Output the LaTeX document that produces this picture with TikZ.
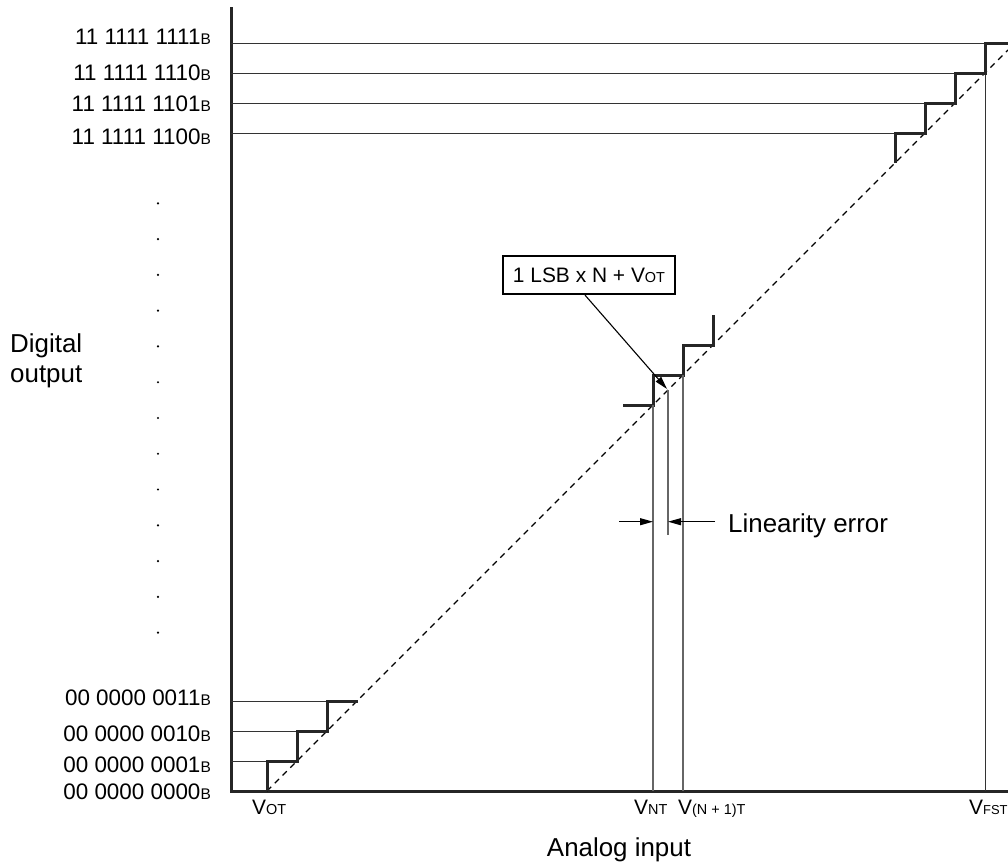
\documentclass[tikz,border=0pt]{standalone}
\usepackage{fontspec}
\setmainfont{Liberation Sans}
\usetikzlibrary{positioning,arrows.meta}

\newcommand{\smallcap}[1]{{\fontsize{14.5}{14.5}\selectfont #1}}
\newcommand{\codesub}[1]{{\fontsize{15.5}{15.5}\selectfont #1}}

\begin{document}
\begin{tikzpicture}[x=1bp,y=-1bp,
    every node/.style={inner sep=0},
    code/.style={anchor=base east, font=\fontsize{22.5}{24}\selectfont},
    volt/.style={anchor=base west, font=\fontsize{21}{24}\selectfont},
    bigtext/.style={font=\fontsize{26}{29.5}\selectfont},
    axisline/.style={line width=3bp, black!85},
    stair/.style={line width=3bp, black!85, line join=miter},
    guide/.style={line width=1bp, black!80},
    drop/.style={line width=1.4bp, black!60},
    ideal/.style={line width=1.2bp, dash pattern=on 6bp off 5bp},
    errarrow/.style={line width=1.1bp, -{Triangle[length=13bp,width=7bp]}}]
  \useasboundingbox (0,0) rectangle (1008,862);

  % axes
  \coordinate (O) at (231,791);
  \coordinate (ytop) at (231,7);
  \coordinate (xend) at (1008,791);
  \draw[axisline] (ytop) -- (O) -- (xend);

  % codes
  \node[code] (c3ff) at (211,44) {11 1111 1111\codesub{B}};
  \node[code] (c3fe) at (211,80) {11 1111 1110\codesub{B}};
  \node[code] (c3fd) at (211,111.7) {11 1111 1101\codesub{B}};
  \node[code] (c3fc) at (211,144) {11 1111 1100\codesub{B}};
  \node[code] (c003) at (211,705) {00 0000 0011\codesub{B}};
  \node[code] (c002) at (211,741.7) {00 0000 0010\codesub{B}};
  \node[code] (c001) at (211,772.7) {00 0000 0001\codesub{B}};
  \node[code] (c000) at (211,799) {00 0000 0000\codesub{B}};
  \foreach \k in {0,...,12}
    \fill (158,203.3+35.78*\k) circle (1.2bp);
  \node[bigtext, align=left, anchor=north west] (dout) at (10,334) {Digital\\output};

  % ideal line
  \coordinate (vot) at (267,791);
  \coordinate (fs) at (1008,50);
  \draw[ideal] (vot) -- (fs);

  % guides
  \draw[guide] (231,43) -- (985,43);
  \draw[guide] (231,73) -- (955,73);
  \draw[guide] (231,103) -- (925,103);
  \draw[guide] (231,133) -- (895,133);
  \draw[guide] (231,701) -- (327,701);
  \draw[guide] (231,731) -- (297,731);
  \draw[guide] (231,761) -- (267,761);
  \draw[guide] (985,73) -- (985,791);

  % steps
  \draw[stair] (vot) -- ++(0,-30) -- ++(30,0) -- ++(0,-30) -- ++(30,0)
    -- ++(0,-30) -- ++(31,0);
  \draw[stair] (895,163) -- ++(0,-30) -- ++(30,0) -- ++(0,-30) -- ++(30,0)
    -- ++(0,-30) -- ++(30,0) -- ++(0,-30) -- (1008,43);
  \draw[stair] (623,405) -- (653,405) -- ++(0,-30) -- ++(30,0) -- ++(0,-30)
    -- ++(30,0) -- ++(0,-30);

  % transition points
  \coordinate (vnt) at (653,405);
  \coordinate (vn1t) at (683,375);
  \coordinate (ideal) at (668,390);
  \draw[drop] (vnt) -- (653,791);
  \draw[drop] (vn1t) -- (683,791);
  \draw[drop] (ideal) -- (668,535);

  \node[draw, line width=2.2bp, minimum width=172bp, minimum height=38bp,
    font=\fontsize{21}{24}\selectfont] (lsb) at (589,275)
    {1 LSB x N + V\smallcap{OT}};
  \draw[errarrow] ([xshift=-4bp]lsb.south) -- ([shift={(-1,-1)}]ideal);

  % linearity error
  \node[bigtext, anchor=base west] (lin) at (728,532) {Linearity error};
  \coordinate (errL) at (619,521.7);
  \coordinate (errR) at (715,521.7);
  \draw[errarrow] (errL) -- (653,521.7);
  \draw[errarrow] (errR) -- (668,521.7);

  % input labels
  \node[volt] (lvot) at (252,814) {V\smallcap{OT}};
  \node[volt] (lvnt) at (634,814) {V\smallcap{NT}};
  \node[volt] (lvn1) at (678,814) {V\smallcap{(N + 1)T}};
  \node[volt] (lvfs) at (969,814) {V{\fontsize{13}{13}\selectfont FST}};
  \node[bigtext, anchor=base] (ain) at (619,856) {Analog input};
\end{tikzpicture}
\end{document}
